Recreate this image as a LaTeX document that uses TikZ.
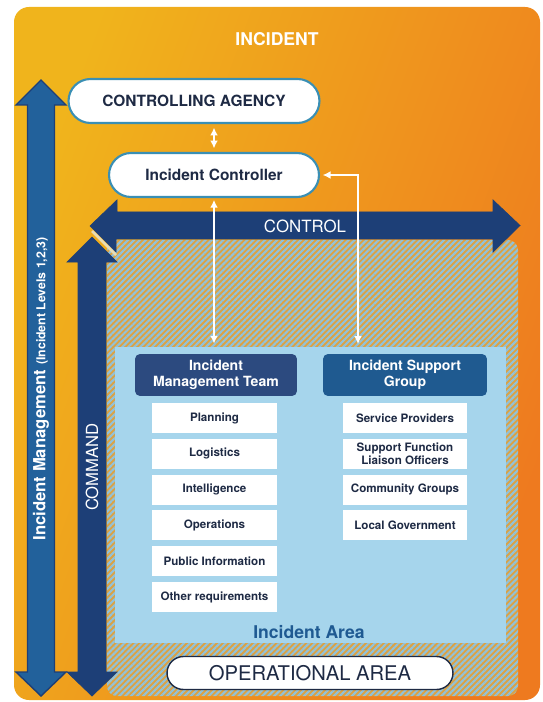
\documentclass[tikz,border=0pt]{standalone}
\usepackage{fontspec}
\setmainfont{TeX Gyre Heros}
\usepackage{xcolor}
\usepackage{tikz}
\usetikzlibrary{arrows.meta,shapes.misc,patterns.meta}

\definecolor{ambre}{HTML}{F0B41C}
\definecolor{deeporange}{HTML}{EE7A1F}
\definecolor{navy}{HTML}{1D3F77}
\definecolor{midblue}{HTML}{22619B}
\definecolor{edgeteal}{HTML}{3A8FB4}
\definecolor{skyarea}{HTML}{A6D5EC}
\definecolor{stripe}{HTML}{92C2D9}
\definecolor{hatchbase}{HTML}{DCA243}
\definecolor{imtnavy}{HTML}{2C4A7F}
\definecolor{isgblue}{HTML}{1F5A90}
\definecolor{inktext}{HTML}{1E2A44}
\definecolor{areablue}{HTML}{1F5A92}
\definecolor{bevel}{HTML}{E8DCB4}

\tikzset{
	topbox/.style={rounded rectangle, draw=edgeteal, line width=1.2pt, fill=white, minimum height=0.88cm, inner sep=0pt, text=inktext, font=\bfseries\fontsize{8.8}{10}\selectfont},
	headbox/.style={rounded corners=0.1cm, text=white, minimum height=0.84cm, inner sep=0pt, align=center, font=\bfseries\fontsize{8}{9}\selectfont},
	itembox/.style={fill=white, minimum width=2.5cm, minimum height=0.6cm, inner sep=0pt, align=center, text=inktext, font=\bfseries\fontsize{6.6}{7.2}\selectfont},
	wlink/.style={white, line width=1.3pt, {Latex[length=4.5pt,width=4.5pt]}-{Latex[length=4.5pt,width=4.5pt]}}
}

\begin{document}
\begin{tikzpicture}[x=0.02cm,y=-0.02cm]
	\useasboundingbox (0,0) rectangle (543,702);
	\shade[left color=ambre, right color=deeporange, shading angle=70, rounded corners=0.3cm] (14,7) rectangle (540,700);
	
	\fill[hatchbase, rounded corners=0.2cm] (107,240) rectangle (518,696);
	\fill[pattern={Lines[angle=45,distance=2.4pt,line width=1.2pt]}, pattern color=stripe, rounded corners=0.2cm] (107,240) rectangle (518,696);
	\fill[skyarea] (115,347) rectangle (506,643);
	
	\draw[fill=midblue, draw=navy, line width=0.8pt] (27.5,105) -- (16,105) -- (41,80) -- (66,105) -- (54.5,105) -- (54.5,672) -- (66,672) -- (41,696) -- (16,672) -- (27.5,672) -- cycle;
	\draw[fill=navy, draw=navy] (78,262) -- (67,262) -- (92,237) -- (117,262) -- (106,262) -- (106,672) -- (117,672) -- (92,696) -- (67,672) -- (78,672) -- cycle;
	\draw[fill=navy, draw=navy] (117,212) -- (117,200) -- (90,226) -- (116,252) -- (116,239) -- (493,239) -- (493,252) -- (520,225.5) -- (493,200) -- (493,212) -- cycle;
	\draw[bevel, line width=1.6pt] (92,231) -- (116,255);
	
	\node[white, font=\bfseries\fontsize{10}{12}\selectfont] (incident) at (277,39) {INCIDENT};
	\node[white, rotate=90, font=\bfseries] (levels) at (41,389) {{\fontsize{9.5}{11}\selectfont Incident Management} {\fontsize{7}{8}\selectfont (Incident Levels 1,2,3)}};
	\node[white, rotate=90, font=\fontsize{9.5}{11}\selectfont] (command) at (92,467) {COMMAND};
	\node[white, font=\fontsize{9.6}{11}\selectfont] (control) at (305,226) {CONTROL};
	
	\node[topbox, minimum width=5.02cm] (agency) at (194,101) {CONTROLLING AGENCY};
	\node[topbox, minimum width=4.2cm] (controller) at (214,175) {Incident Controller};
	
	\node[headbox, fill=imtnavy, minimum width=3.24cm] (imt) at (216,375) {Incident\\Management Team};
	\node[headbox, fill=isgblue, minimum width=3.28cm] (isg) at (405,375) {Incident Support\\Group};
	
	\foreach \name [count=\i from 0] in {Planning,Logistics,Intelligence,Operations,Public Information,Other requirements}
		\node[itembox] (imt-\i) at (214.5,418+35.8*\i) {\name};
	\foreach \name [count=\i from 0] in {Service Providers,{Support Function\\Liaison Officers},Community Groups,Local Government}
		\node[itembox] (isg-\i) at (405,418+35.8*\i) {\name};
	
	\node[text=areablue, font=\bfseries\fontsize{10}{12}\selectfont] (area) at (309,632) {Incident Area};
	\node[rounded rectangle, draw=inktext, line width=0.8pt, fill=white, minimum width=5.72cm, minimum height=0.66cm, inner sep=0pt, text=inktext, font=\fontsize{11.5}{13}\selectfont] (oparea) at (310,673) {OPERATIONAL AREA};
	
	\coordinate (supportin) at (358,344);
	\draw[wlink, shorten <=2pt, shorten >=2pt] (agency.south -| controller.north) -- (controller.north);
	\draw[wlink, shorten <=1pt, shorten >=0.2cm] (controller.south) -- (controller.south |- imt.north);
	\draw[wlink, shorten <=1.5pt] (controller.east) -| (supportin);
\end{tikzpicture}
\end{document}
